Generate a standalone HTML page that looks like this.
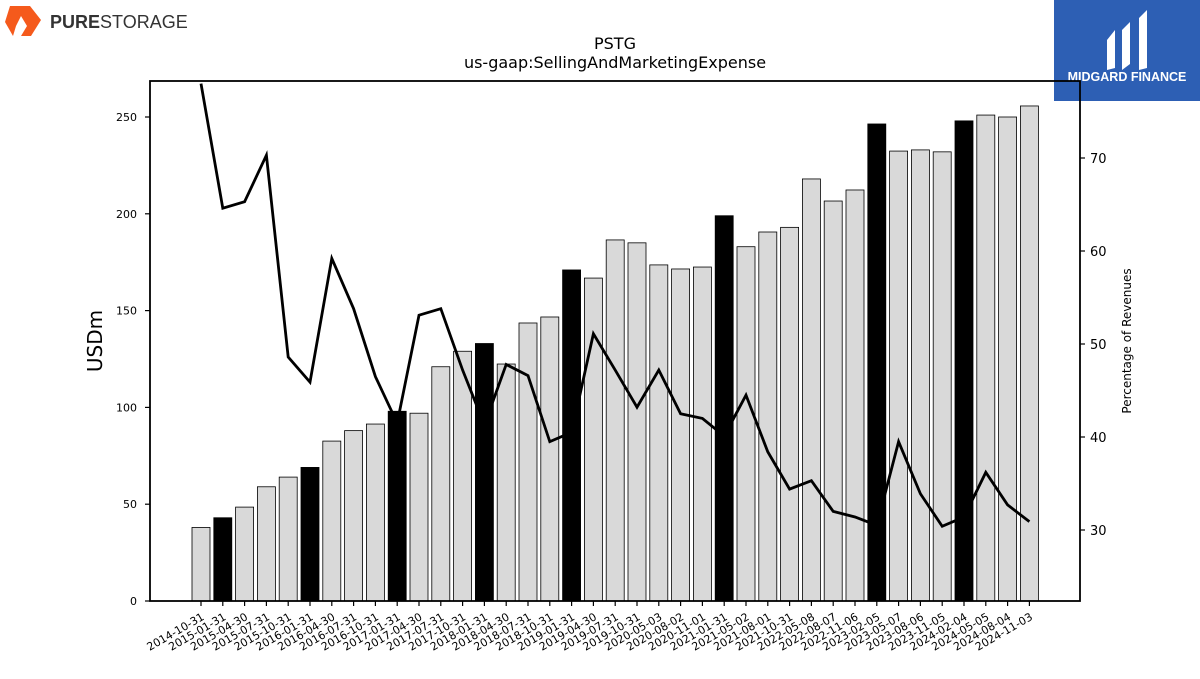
<!DOCTYPE html>
<html><head><meta charset="utf-8"><style>
body{margin:0;background:#fff;width:1200px;height:675px;overflow:hidden;font-family:"DejaVu Sans","Liberation Sans",sans-serif}
svg text{font-family:"DejaVu Sans","Liberation Sans",sans-serif}
</style></head><body>
<svg id="chart" width="1200" height="675" xmlns="http://www.w3.org/2000/svg">
<g>
<path d="M10 6 L30 6 L41 20 L31 36 L21 36 L27 26 L21 16 L16 26 L13 36 L5 22 Z" fill="#f55a1c"/>
<text x="50" y="28" font-size="18" font-weight="bold" fill="#333" style="font-family:'Liberation Sans',sans-serif">PURE<tspan font-weight="normal">STORAGE</tspan></text>
</g>
<g>
<rect x="1054" y="0" width="146" height="101" fill="#2d5fb4"/>
<path d="M1107 40 L1115 30 L1115 68 L1107 70 Z M1122 30 L1130 22 L1130 64 L1122 70 Z M1139 18 L1147 10 L1147 68 L1139 70 Z" fill="#fff"/>
<text x="1127" y="81" font-size="12.5" font-weight="bold" fill="#fff" text-anchor="middle" style="font-family:'Liberation Sans',sans-serif">MIDGARD FINANCE</text>
</g>
<text x="615" y="49" font-size="16" text-anchor="middle">PSTG</text>
<text x="615" y="68" font-size="16" text-anchor="middle">us-gaap:SellingAndMarketingExpense</text>
<g id="plot"></g>
</svg>
<script>
const categories=["2014-10-31","2015-01-31","2015-04-30","2015-07-31","2015-10-31","2016-01-31","2016-04-30","2016-07-31","2016-10-31","2017-01-31","2017-04-30","2017-07-31","2017-10-31","2018-01-31","2018-04-30","2018-07-31","2018-10-31","2019-01-31","2019-04-30","2019-07-31","2019-10-31","2020-05-03","2020-08-02","2020-11-01","2021-01-31","2021-05-02","2021-08-01","2021-10-31","2022-05-08","2022-08-07","2022-11-06","2023-02-05","2023-05-07","2023-08-06","2023-11-05","2024-02-04","2024-05-05","2024-08-04","2024-11-03"];
const expense=[38,43,48.5,59,64,69,82.6,88,91.4,98,97,121,129,133,122.4,143.6,146.7,171,166.8,186.5,185,173.6,171.5,172.5,199,183,190.6,193,218,206.6,212.3,246.4,232.4,233,232,248,251,250,255.7];
const fiscalYearEnd=[1,5,9,13,17,24,31,35];
const pctRevenue=[78,64.6,65.3,70.3,48.6,45.9,59.2,53.8,46.5,41.5,53.1,53.8,47.2,41.3,47.8,46.6,39.5,40.5,51.1,47.2,43.2,47.2,42.5,42.0,40.1,44.5,38.4,34.4,35.3,32.0,31.4,30.5,39.5,33.9,30.4,31.4,36.2,32.7,30.9];
const leftTicks=[0,50,100,150,200,250];
const rightTicks=[30,40,50,60,70];

const NS="http://www.w3.org/2000/svg";
const g=document.getElementById('plot');
const L=150,R=1080,T=81,B=601;
const yL=v=>B-v*1.936;
const yR=v=>530-(v-30)*9.3;
const step=21.8;
const xC=i=>201+i*step;
function mk(t,a,p){const e=document.createElementNS(NS,t);for(const k in a)e.setAttribute(k,a[k]);(p||g).appendChild(e);return e;}

categories.forEach((c,i)=>{
  const r=mk('rect',{x:xC(i)-9,y:yL(expense[i]),width:18,height:B-yL(expense[i]),fill:fiscalYearEnd.includes(i)?'#000':'#d9d9d9',stroke:'#000','stroke-width':0.8});
  
  
  const tk=mk('line',{x1:xC(i),x2:xC(i),y1:B,y2:B+5,stroke:'#000','stroke-width':1.2});
  
  
  const tx=mk('text',{x:xC(i)+4,y:B+18,'font-size':11,'text-anchor':'end',transform:`rotate(-30 ${xC(i)+4} ${B+18})`});
  tx.textContent=c;
  
  
});
const pts=pctRevenue.map((v,i)=>xC(i)+','+yR(v)).join(' ');
const pl=mk('polyline',{points:pts,fill:'none',stroke:'#000','stroke-width':2.8,'stroke-linejoin':'miter'});



const fr=mk('rect',{x:L,y:T,width:R-L,height:B-T,fill:'none',stroke:'#000','stroke-width':1.8});


leftTicks.forEach(v=>{
  const l=mk('line',{x1:L-5,x2:L,y1:yL(v),y2:yL(v),stroke:'#000','stroke-width':1.2});
  
  
  const t=mk('text',{x:L-13,y:yL(v)+4,'font-size':11,'text-anchor':'end'});
  t.textContent=v;
  
  
});
rightTicks.forEach(v=>{
  const l=mk('line',{x1:R,x2:R+5,y1:yR(v),y2:yR(v),stroke:'#000','stroke-width':1.2});
  
  
  const t=mk('text',{x:R+10,y:yR(v)+5,'font-size':13});
  t.textContent=v;
  
  
});
const yt=mk('text',{x:102,y:341,'font-size':20,'text-anchor':'middle',transform:'rotate(-90 102 341)'});
yt.textContent='USDm';


const yt2=mk('text',{x:1131,y:341,'font-size':12,'text-anchor':'middle',transform:'rotate(-90 1131 341)'});
yt2.textContent='Percentage of Revenues';


</script>
</body></html>
